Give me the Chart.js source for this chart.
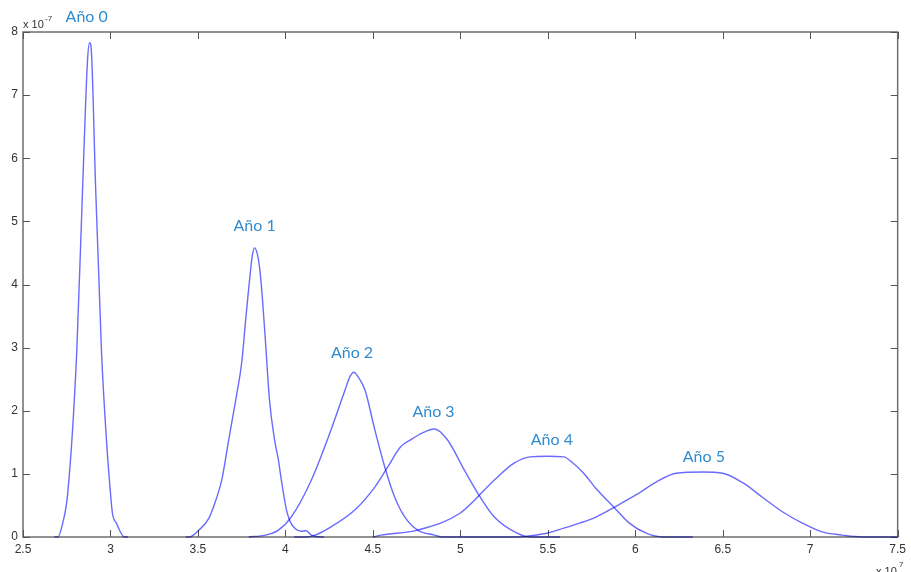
<!DOCTYPE html>
<html>
<head>
<meta charset="utf-8">
<script src="https://cdn.jsdelivr.net/npm/chart.js@4.4.0/dist/chart.umd.min.js"></script>
<style>
  html, body { margin: 0; padding: 0; background: #fff; }
  #wrap { width: 911px; height: 572px; }
</style>
</head>
<body>
<div id="wrap"><canvas id="densityChart" width="911" height="572"></canvas></div>
<script>
// x in units of 1e7, y in units of 1e-7
const year0X = [2.68, 2.699, 2.727, 2.756, 2.807, 2.841, 2.869, 2.881, 2.892, 2.915, 2.949, 2.977, 2.994, 3.011, 3.034, 3.080, 3.10];
const year0Y = [0, 0, 0.22, 0.70, 2.92, 5.55, 7.56, 7.83, 7.64, 5.55, 2.92, 1.54, 0.90, 0.38, 0.22, 0, 0];

const year1X = [3.43, 3.449, 3.506, 3.563, 3.608, 3.636, 3.676, 3.716, 3.750, 3.773, 3.784, 3.801, 3.812, 3.824, 3.838, 3.852, 3.868, 3.886, 3.909, 3.938, 3.960, 3.977, 4.006, 4.028, 4.057, 4.091, 4.119, 4.148, 4.205, 4.22];
const year1Y = [0, 0, 0.11, 0.30, 0.63, 0.90, 1.54, 2.17, 2.76, 3.44, 3.76, 4.23, 4.48, 4.58, 4.50, 4.28, 3.80, 3.10, 2.17, 1.54, 1.22, 0.90, 0.43, 0.24, 0.13, 0.09, 0.10, 0.03, 0, 0];

const year2X = [3.79, 3.886, 3.960, 4.034, 4.148, 4.261, 4.341, 4.369, 4.392, 4.415, 4.455, 4.511, 4.568, 4.625, 4.682, 4.756, 4.852, 4.898, 5.0];
const year2Y = [0, 0.03, 0.11, 0.32, 0.90, 1.70, 2.33, 2.54, 2.61, 2.54, 2.33, 1.70, 1.11, 0.63, 0.32, 0.11, 0.03, 0, 0];

const year3X = [4.05, 4.114, 4.170, 4.261, 4.398, 4.511, 4.585, 4.659, 4.716, 4.784, 4.852, 4.926, 5.023, 5.114, 5.193, 5.324, 5.398, 5.57];
const year3Y = [0, 0, 0.03, 0.16, 0.43, 0.79, 1.11, 1.43, 1.54, 1.65, 1.71, 1.54, 1.06, 0.63, 0.32, 0.06, 0, 0];

const year4X = [4.5, 4.545, 4.756, 5.0, 5.193, 5.307, 5.398, 5.494, 5.591, 5.640, 5.705, 5.778, 5.875, 5.966, 6.063, 6.159, 6.33];
const year4Y = [0, 0.03, 0.11, 0.38, 0.90, 1.17, 1.27, 1.28, 1.27, 1.18, 1.01, 0.76, 0.48, 0.22, 0.06, 0, 0];

const year5X = [5.0, 5.324, 5.398, 5.494, 5.591, 5.682, 5.778, 5.892, 6.006, 6.119, 6.233, 6.386, 6.500, 6.614, 6.727, 6.841, 6.955, 7.068, 7.182, 7.295, 7.5];
const year5Y = [0, 0, 0.02, 0.06, 0.14, 0.22, 0.32, 0.49, 0.67, 0.87, 1.01, 1.03, 1.01, 0.86, 0.63, 0.40, 0.22, 0.08, 0.03, 0, 0];

const seriesLabels = ['Año 0', 'Año 1', 'Año 2', 'Año 3', 'Año 4', 'Año 5'];
const labelX = [2.864, 3.824, 4.381, 4.847, 5.523, 6.392];
const labelY = [8.24, 4.93, 2.92, 1.98, 1.54, 1.27];

const xTicks = [2.5, 3, 3.5, 4, 4.5, 5, 5.5, 6, 6.5, 7, 7.5];
const yTicks = [0, 1, 2, 3, 4, 5, 6, 7, 8];

const allX = [year0X, year1X, year2X, year3X, year4X, year5X];
const allY = [year0Y, year1Y, year2Y, year3Y, year4Y, year5Y];

const datasets = allX.map((xs, i) => ({
    label: seriesLabels[i],
    data: xs.map((x, j) => ({ x: x, y: allY[i][j] })),
    borderColor: '#6a6aff',
    borderWidth: 1.4,
    pointRadius: 0,
    showLine: true,
    fill: false,
    cubicInterpolationMode: 'monotone',
    clip: false
}));

// MATLAB-like box with inward ticks, plus year labels and exponents
const matlabAxes = {
    id: 'matlabAxes',
    beforeDatasetsDraw(chart) {
        const ctx = chart.ctx;
        const a = chart.chartArea;
        const xs = chart.scales.x;
        const ys = chart.scales.y;
        ctx.save();
        ctx.strokeStyle = '#6e6e6e';
        ctx.lineWidth = 1.5;
        ctx.strokeRect(a.left, a.top, a.right - a.left, a.bottom - a.top);
        ctx.lineWidth = 1;
        ctx.strokeStyle = '#555';
        ctx.beginPath();
        xTicks.forEach(v => {
            const px = Math.round(xs.getPixelForValue(v)) + 0.5;
            ctx.moveTo(px, a.bottom); ctx.lineTo(px, a.bottom - 7);
            ctx.moveTo(px, a.top); ctx.lineTo(px, a.top + 7);
        });
        yTicks.forEach(v => {
            const py = Math.round(ys.getPixelForValue(v)) + 0.5;
            ctx.moveTo(a.left, py); ctx.lineTo(a.left + 7, py);
            ctx.moveTo(a.right, py); ctx.lineTo(a.right - 7, py);
        });
        ctx.stroke();
        ctx.restore();
        // lines over the axis come out dark, like the original
        ctx.save();
        ctx.globalCompositeOperation = 'multiply';
    },
    afterDatasetsDraw(chart) {
        chart.ctx.restore();
    },
    afterDraw(chart) {
        const ctx = chart.ctx;
        const xs = chart.scales.x;
        const ys = chart.scales.y;
        ctx.save();
        ctx.fillStyle = '#318ccf';
        ctx.font = '16px Lato';
        ctx.textAlign = 'center';
        ctx.textBaseline = 'middle';
        seriesLabels.forEach((t, i) => {
            ctx.fillText(t, xs.getPixelForValue(labelX[i]), ys.getPixelForValue(labelY[i]));
        });

        ctx.fillStyle = '#333';
        ctx.textAlign = 'left';
        ctx.textBaseline = 'alphabetic';
        ctx.font = '11px "Liberation Sans"';
        ctx.fillText('x 10', 23, 28);
        ctx.font = '8px "Liberation Sans"';
        ctx.fillText('-7', 45, 21);
        ctx.font = '11px "Liberation Sans"';
        ctx.fillText('x 10', 876, 575);
        ctx.font = '8px "Liberation Sans"';
        ctx.fillText('7', 899, 567);
        ctx.restore();
    }
};

const ctx = document.getElementById('densityChart').getContext('2d');
const densityChart = new Chart(ctx, {
    type: 'scatter',
    data: { datasets: datasets },
    options: {
        responsive: false,
        animation: false,
        layout: { padding: { top: 32, right: 8, left: 0, bottom: 0 } },
        scales: {
            x: {
                type: 'linear',
                min: 2.5,
                max: 7.5,
                afterBuildTicks: scale => { scale.ticks = xTicks.map(v => ({ value: v })); },
                afterFit: scale => { scale.height = 35; },
                grid: { display: false, drawTicks: false },
                border: { display: false },
                ticks: {
                    padding: 5,
                    color: '#333',
                    font: { family: 'Liberation Sans', size: 12 },
                    maxRotation: 0,
                    callback: v => String(v)
                }
            },
            y: {
                type: 'linear',
                min: 0,
                max: 8,
                afterBuildTicks: scale => { scale.ticks = yTicks.map(v => ({ value: v })); },
                afterFit: scale => { scale.width = 23; },
                grid: { display: false, drawTicks: false },
                border: { display: false },
                ticks: {
                    padding: 5,
                    color: '#333',
                    font: { family: 'Liberation Sans', size: 12 },
                    callback: v => String(v)
                }
            }
        },
        plugins: {
            legend: { display: false },
            tooltip: { enabled: false }
        }
    },
    plugins: [matlabAxes]
});
</script>
</body>
</html>
